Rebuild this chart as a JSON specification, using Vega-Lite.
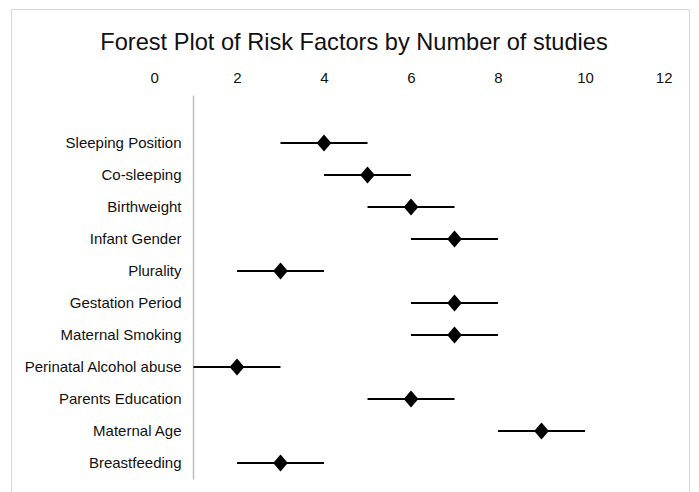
{
  "$schema": "https://vega.github.io/schema/vega-lite/v6.json",
  "autosize": {"type": "none"},
  "padding": {"left": 11, "top": 9, "right": 10, "bottom": 0},
  "width": 678,
  "height": 490,
  "background": "white",
  "config": {
    "view": {"stroke": "#d9d9d9", "strokeWidth": 1},
    "font": "Liberation Sans"
  },
  "title": {
    "text": "Forest Plot of Risk Factors by Number of studies",
    "fontSize": 23.6,
    "fontWeight": "normal",
    "color": "#111111",
    "anchor": "middle",
    "baseline": "alphabetic",
    "offset": -65,
    "dx": 4
  },
  "data": {
    "values": [
      {"factor": "Sleeping Position", "studies": 4, "lo": 3, "hi": 5},
      {"factor": "Co-sleeping", "studies": 5, "lo": 4, "hi": 6},
      {"factor": "Birthweight", "studies": 6, "lo": 5, "hi": 7},
      {"factor": "Infant Gender", "studies": 7, "lo": 6, "hi": 8},
      {"factor": "Plurality", "studies": 3, "lo": 2, "hi": 4},
      {"factor": "Gestation Period", "studies": 7, "lo": 6, "hi": 8},
      {"factor": "Maternal Smoking", "studies": 7, "lo": 6, "hi": 8},
      {"factor": "Perinatal Alcohol abuse", "studies": 2, "lo": 1, "hi": 3},
      {"factor": "Parents Education", "studies": 6, "lo": 5, "hi": 7},
      {"factor": "Maternal Age", "studies": 9, "lo": 8, "hi": 10},
      {"factor": "Breastfeeding", "studies": 3, "lo": 2, "hi": 4}
    ]
  },
  "encoding": {
    "y": {
      "field": "factor",
      "type": "nominal",
      "sort": null,
      "scale": {"type": "band", "paddingInner": 0, "paddingOuter": 0.5, "align": 1, "range": [86, 470]},
      "axis": {
        "title": null,
        "orient": "left",
        "offset": -182,
        "ticks": false,
        "tickSize": 0,
        "labelPadding": 12,
        "labelFontSize": 15,
        "labelColor": "#111111",
        "labelFont": "Liberation Sans",
        "domain": true,
        "domainColor": "#bfbfbf",
        "domainWidth": 1.5,
        "grid": false
      }
    }
  },
  "layer": [
    {
      "mark": {"type": "rule", "color": "#000000", "strokeWidth": 2},
      "encoding": {
        "x": {
          "field": "lo",
          "type": "quantitative",
          "scale": {"domain": [0, 12], "range": [139, 661], "nice": false, "zero": false},
          "axis": {
            "orient": "top",
            "title": null,
            "values": [0, 2, 4, 6, 8, 10, 12],
            "format": "d",
            "domain": false,
            "ticks": false,
            "tickSize": 0,
            "grid": false,
            "labelPadding": 0,
            "labelBaseline": "alphabetic",
            "offset": -73,
            "labelFontSize": 15,
            "labelColor": "#111111",
            "labelFont": "Liberation Sans"
          }
        },
        "x2": {"field": "hi"}
      }
    },
    {
      "mark": {
        "type": "point",
        "shape": "M0,-1L0.865,0L0,1L-0.865,0Z",
        "size": 289,
        "filled": true,
        "color": "#000000",
        "opacity": 1
      },
      "encoding": {
        "x": {"field": "studies", "type": "quantitative"}
      }
    }
  ]
}
